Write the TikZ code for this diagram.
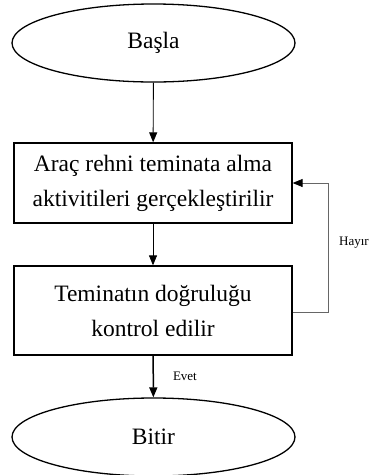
\documentclass[tikz,border=0pt]{standalone}
\usepackage{fontspec}
\setmainfont{Liberation Serif}
\usetikzlibrary{shapes.geometric,arrows.meta}
\begin{document}
\begin{tikzpicture}[x=1pt,y=-1pt,
  term/.style={draw,line width=1.3pt,ellipse,minimum width=283pt,minimum height=78pt,inner sep=0pt,font=\fontsize{23.5}{33}\selectfont},
  procbox/.style={draw,line width=1.3pt,rectangle,minimum width=278pt,inner sep=0pt,align=center,font=\fontsize{23.5}{35}\selectfont},
  flow/.style={line width=0.9pt,-{Triangle[width=8pt,length=10pt,color=black]}},
  lbl/.style={font=\fontsize{13}{15}\selectfont,inner sep=0pt}]
\useasboundingbox (0,0) rectangle (379,475);
\node[term] (start) at (153.5,43) {Başla};
\node[procbox,minimum height=80pt] (act) at (153,183) {Araç rehni teminata alma\\aktivitileri gerçekleştirilir};
\node[procbox,minimum height=89pt] (chk) at (153,310.5) {Teminatın doğruluğu\\kontrol edilir};
\node[term] (end) at (153.5,437) {Bitir};
\coordinate (loop) at (328,312);
\draw[flow] (start) -- (act);
\draw[flow] (act) -- (chk);
\draw[flow,line width=1.5pt] (chk) -- (end) node[lbl,pos=0.5,anchor=west,xshift=19pt] (evet) {Evet};
\draw[flow,draw=gray!80!black] (chk.east |- loop) -- (loop) |- (act.east);
\node[lbl,anchor=west] (hayir) at (339,243) {Hayır};
\end{tikzpicture}
\end{document}
